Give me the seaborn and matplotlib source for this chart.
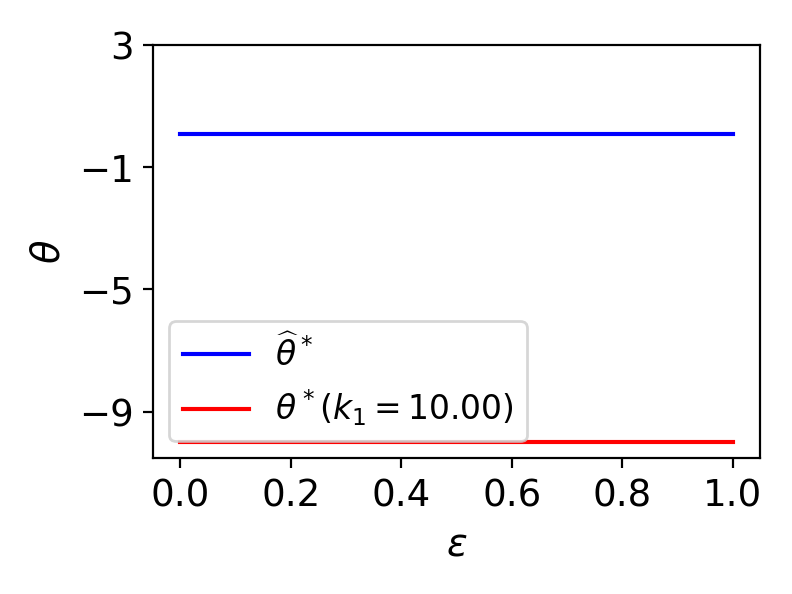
import matplotlib
matplotlib.use("Agg")
import matplotlib.pyplot as plt
import seaborn as sns
import pandas as pd

# Data
epsilon = [0.0, 0.1, 0.2, 0.3, 0.4, 0.5, 0.6, 0.7, 0.8, 0.9, 1.0]
theta_hat = [0.1, 0.1, 0.1, 0.1, 0.1, 0.1, 0.1, 0.1, 0.1, 0.1, 0.1]
theta_star = [-10.0, -10.0, -10.0, -10.0, -10.0, -10.0, -10.0, -10.0, -10.0, -10.0, -10.0]
labels = [r"$\widehat{\theta}^*$", r"$\theta^*(k_1=10.00)$"]
xticks = [0.0, 0.2, 0.4, 0.6, 0.8, 1.0]
yticks = [3, -1, -5, -9]

df = pd.concat([
    pd.DataFrame({"eps": epsilon, "theta": theta_hat, "series": labels[0]}),
    pd.DataFrame({"eps": epsilon, "theta": theta_star, "series": labels[1]}),
])

plt.rcParams["font.size"] = 12
fig, ax = plt.subplots(figsize=(4, 3), dpi=198)
sns.lineplot(data=df, x="eps", y="theta", hue="series",
             palette={labels[0]: "blue", labels[1]: "red"}, linewidth=1.5, ax=ax)
ax.set_xticks(xticks)
ax.set_yticks(yticks)
ax.set_ylim(-10.52, 3)
ax.tick_params(labelsize=13.5)
ax.set_xlabel(r"$\epsilon$", fontsize=14)
ax.set_ylabel(r"$\theta$", fontsize=14)
ax.legend(loc="lower left", title=None, fontsize=12, labelspacing=0.45)
fig.subplots_adjust(left=0.193, right=0.96, top=0.924, bottom=0.229)
fig.savefig("out.png", dpi=198)
